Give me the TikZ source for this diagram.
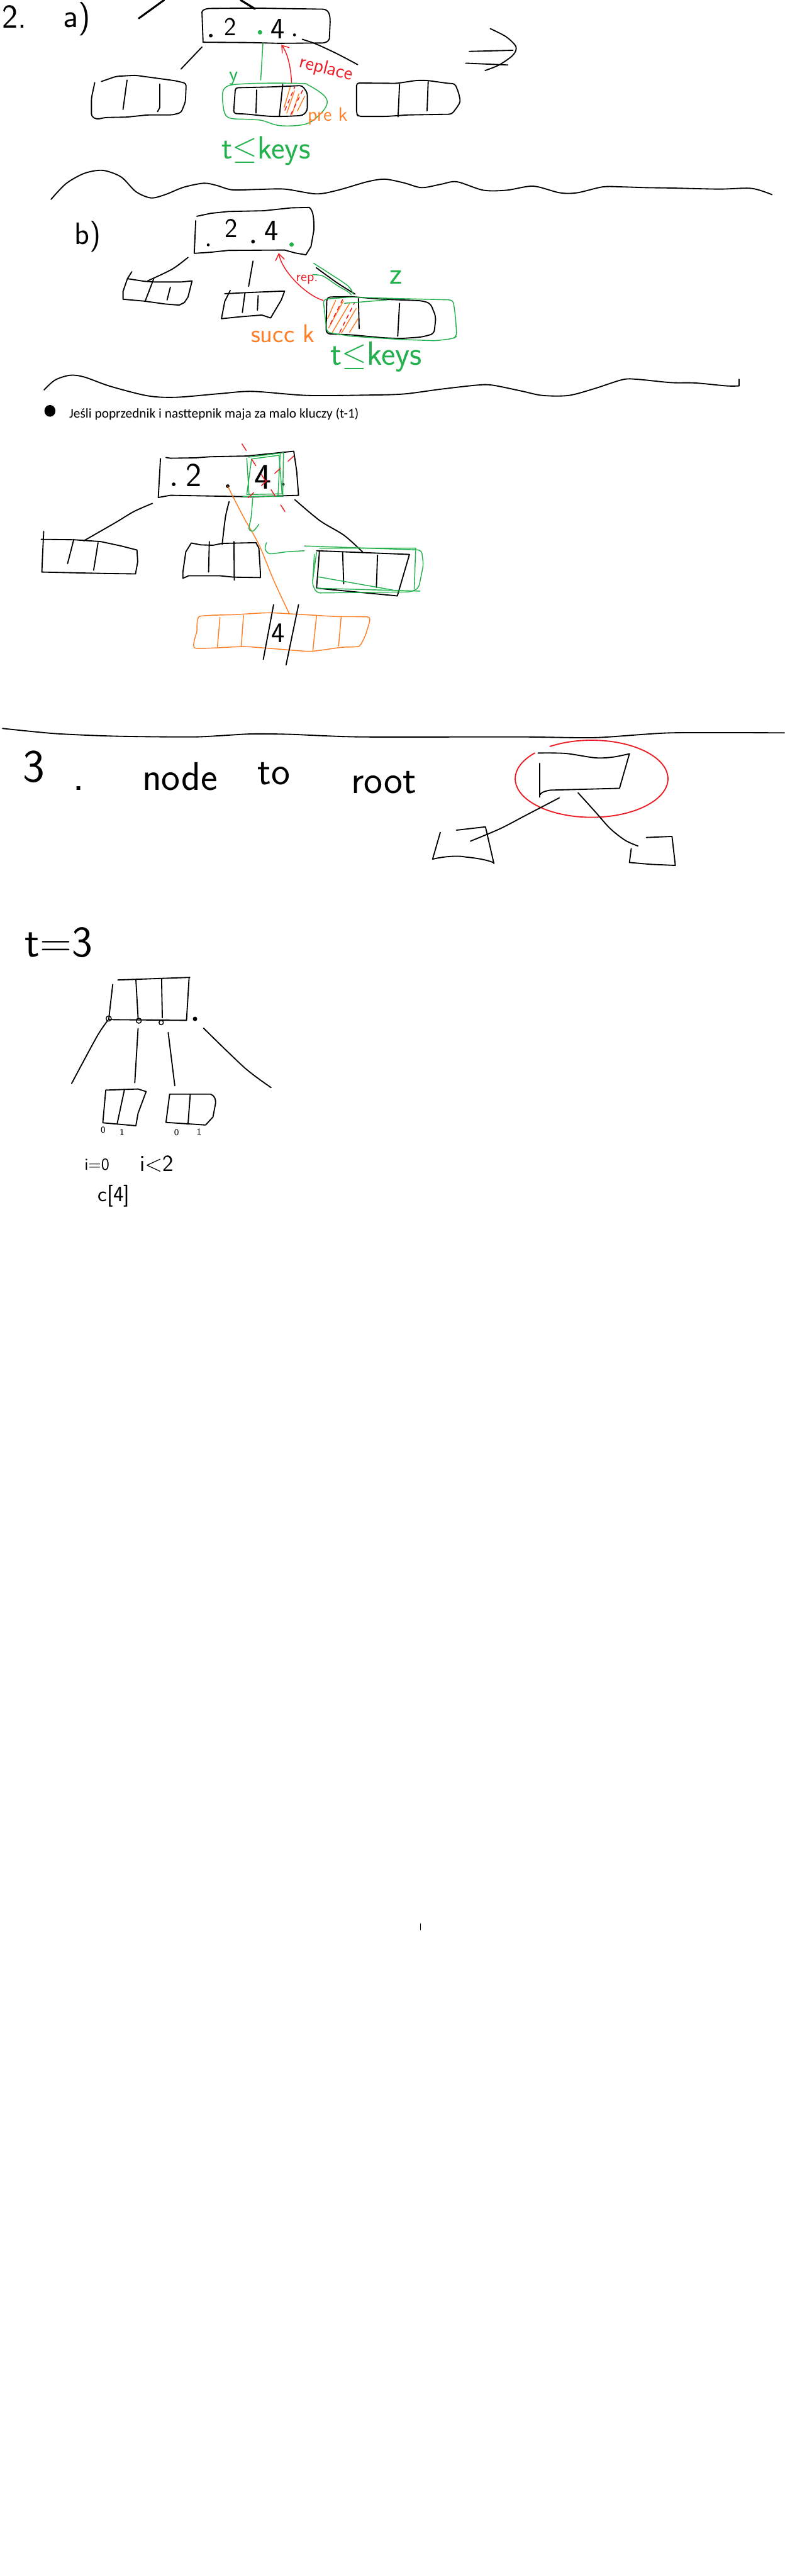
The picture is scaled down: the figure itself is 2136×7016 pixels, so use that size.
\documentclass[tikz,border=0pt]{standalone}
\usepackage{fontspec}
\setmainfont{Carlito}
\usetikzlibrary{arrows.meta}
\definecolor{pgreen}{HTML}{22B14C}
\definecolor{pred}{HTML}{ED1C24}
\definecolor{porange}{HTML}{FF7F27}
\newcommand\hsz[1]{\fontsize{#1}{#1}\selectfont}
\tikzset{
  ink/.style={draw=black, line width=0.9pt, line cap=round, line join=round},
  gink/.style={draw=pgreen, line width=0.7pt, line cap=round, line join=round},
  rink/.style={draw=pred, line width=0.7pt, line cap=round, line join=round},
  oink/.style={draw=porange, line width=0.7pt, line cap=round, line join=round},
  hand/.style={font=\sffamily, inner sep=0pt, outer sep=0pt},
  dotk/.style={fill=black},
  barb/.style={-{Straight Barb[length=5pt,width=7pt]}},
  rdash/.style={rink, dash pattern=on 6pt off 8pt},
}
\begin{document}
\begin{tikzpicture}[x=0.01cm,y=-0.01cm]
\fill[white] (0,0) rectangle (2136,7016);
\useasboundingbox (0,0) rectangle (2136,7016);

% ================= 2 a) =================
\draw[ink, line width=1.5pt] (378,50) -- (447,0);
\draw[ink, line width=1.6pt] (655,0) -- (694,24);
\node[hand, anchor=base west] (t2) at (6,77) {\hsz{26}2.};
\node[hand, anchor=base west] (ta) at (172,74) {\hsz{26}a)};

% root a
\draw[ink] (574,23) -- (690,22) -- (880,25) .. controls (896,27) and (899,40) .. (899,60)
  -- (897,105) .. controls (895,112) and (890,115) .. (880,117) -- (760,118) -- (683,116)
  -- (553,115) -- (550,33) .. controls (551,27) and (560,23) .. (574,23);
\node[hand] (ra2) at (627,73) {\hsz{20}2};
\node[hand] (ra4) at (756,78) {\hsz{23}4};
\fill[dotk] (574,97) circle (5);
\fill[pgreen] (708,88) circle (6);
\fill[dotk] (802,95) circle (4);

% tree lines a
\draw[ink] (550,128) -- (493,188);
\draw[ink] plot[smooth] coordinates {(823,107) (861,120) (919,147) (974,176)};

% left child a
\draw[ink, rounded corners=2pt] (276,222) -- (316,208) -- (368,205) -- (478,220) -- (507,227)
  -- (505,277) -- (493,307) -- (469,313) -- (402,313) -- (344,319) -- (287,320) -- (263,325)
  -- (249,317) -- (249,267) -- (258,225);
\draw[ink] (346,218) -- (335,298);
\draw[ink] (435,229) -- (435,293) -- (429,304);

% middle child a
\draw[ink, rounded corners=2pt] (641,239) -- (732,237) -- (823,233) -- (837,253) -- (837,300)
  -- (828,312) -- (818,315) -- (775,317) -- (737,317) -- (703,314) -- (675,311) -- (636,309) -- cycle;
\draw[ink] (699,245) -- (697,308);
\draw[ink] (770,230) -- (761,315);
% hatch
\draw[oink] (774,292) -- (790,238);
\draw[oink] (781,308) -- (802,247);
\draw[oink] (795,312) -- (814,255);
\draw[oink] (810,302) -- (830,262);
\draw[rdash, dash pattern=on 3pt off 3pt] (776,300) -- (803,236);
\draw[rdash, dash pattern=on 3pt off 3pt] (792,312) -- (825,244);

% green ellipse a
\draw[gink] plot[smooth cycle, tension=0.6] coordinates {(612,240) (670,228) (813,227) (842,233) (885,263) (888,290) (856,325) (823,340) (761,342) (713,328) (675,325) (622,320) (608,290)};
\draw[gink] (716,118) -- (710,218);
\node[hand, text=pgreen] (ly) at (636,213) {\hsz{16}y};

% red arrow a
\draw[rink, barb] (794,225) .. controls (792,180) and (782,142) .. (766,122);
\node[hand, text=pred, rotate=-14] (lrep) at (888,188) {\hsz{15}replace};
\node[hand, text=porange, anchor=base west] (lpre) at (838,330) {\hsz{15}pre\,\,k};

% right child a
\draw[ink, rounded corners=2pt] (971,226) -- (1081,227) -- (1134,219) -- (1163,219) -- (1220,227)
  -- (1239,228) -- (1249,253) -- (1254,277) -- (1244,293) -- (1230,311) -- (1110,313) -- (1053,317)
  -- (976,317) -- (971,310) -- cycle;
\draw[ink] (1088,230) -- (1084,318);
\draw[ink] (1166,222) -- (1163,302);

% implies arrow
\draw[ink] (1278,140) -- (1397,137);
\draw[ink] (1268,172) -- (1383,177);
\draw[ink] plot[smooth] coordinates {(1335,78) (1378,100) (1405,127) (1397,150) (1359,177) (1321,192)};

\node[hand, text=pgreen, anchor=base west] (lk1) at (603,432) {\hsz{25}t$\leq$keys};

% separator 1
\draw[ink] plot[smooth, tension=0.5] coordinates {(139,543) (180,500) (230,472) (280,464) (330,482) (370,522) (411,539) (450,530) (500,510) (555,499) (590,505) (632,517) (700,516) (775,515) (861,528) (920,518) (1000,495) (1048,488) (1100,498) (1148,511) (1200,502) (1244,495) (1316,518) (1380,518) (1452,507) (1524,525) (1572,525) (1641,509) (1694,509) (1758,511) (1825,512) (1958,515) (2046,513) (2102,530)};

% ================= b) =================
\node[hand] (tb) at (239,645) {\hsz{24}b)};
\draw[ink] (536,589) -- (574,581) -- (622,576) -- (718,574) -- (794,566) -- (842,565)
  .. controls (852,572) and (855,590) .. (855,625) -- (847,671) -- (833,694) -- (804,689)
  -- (775,681) -- (622,682) -- (574,687) -- (529,690) -- (533,601);
\node[hand] (rb2) at (630,622) {\hsz{21}2};
\node[hand] (rb4) at (739,628) {\hsz{23}4};
\fill[dotk] (567,667) circle (4);
\fill[dotk] (689,658) circle (5);
\fill[pgreen] (794,666) circle (6);

\draw[ink] plot[smooth] coordinates {(512,701) (469,733) (402,765)};
\draw[ink] (689,711) -- (677,780);
\draw[ink] plot[smooth] coordinates {(861,729) (919,771) (967,801)};
\draw[gink] plot[smooth] coordinates {(854,717) (890,740) (947,778) (962,801)};
\draw[gink] plot[smooth] coordinates {(852,748) (880,752) (919,778) (947,794) (957,803)};

% left child b
\draw[ink] (359,740) -- (347,759) -- (392,766) -- (421,768) -- (493,768) -- (523,765)
  -- (512,809) -- (502,824) -- (488,831) -- (450,828) -- (392,820) -- (335,815) -- (335,794) -- (347,759);
\draw[ink] (418,761) -- (395,821);
\draw[ink] (464,782) -- (455,817);

% middle child b
\draw[ink] (612,800) -- (670,797) -- (766,793) -- (775,793) -- (766,817) -- (737,866)
  -- (713,858) -- (651,863) -- (603,868) -- (612,821) -- (627,791);
\draw[ink] (667,798) -- (660,851);
\draw[ink] (703,805) -- (701,845);

% right child b
\draw[ink, rounded corners=3pt] (890,809) -- (957,808) -- (1043,815) -- (1148,819) -- (1172,826)
  -- (1187,863) -- (1182,909) -- (1148,918) -- (1091,922) -- (1043,920) -- (957,912) -- (888,909) -- cycle;
\draw[ink] (976,813) -- (978,895);
\draw[ink] (1088,826) -- (1083,916);
% hatch b
\draw[oink] (892,868) -- (914,818);
\draw[oink] (895,893) -- (935,820);
\draw[oink] (905,905) -- (952,826);
\draw[oink] (930,907) -- (970,840);
\draw[oink] (952,905) -- (975,868);
\draw[rdash, dash pattern=on 3pt off 3pt] (900,882) -- (935,812);
\draw[rdash, dash pattern=on 3pt off 3pt] (925,905) -- (965,825);
% green box b
\draw[gink, rounded corners=3pt] (880,815) -- (957,809) -- (1043,812) -- (1234,817) -- (1240,860)
  -- (1244,916) -- (1234,922) -- (1187,928) -- (1100,925) -- (957,916) -- (890,905) -- cycle;
\draw[gink] (938,826) -- (1053,817);
\node[hand, text=pgreen] (lz) at (1079,756) {\hsz{24}z};

% red arrow b
\draw[rink, barb] (880,818) .. controls (835,805) and (768,740) .. (759,689);
\node[hand, text=pred] (lrep2) at (836,762) {\hsz{11}rep.};
\node[hand, text=porange] (lsucc) at (770,908) {\hsz{20}succ k};
\node[hand, text=pgreen, anchor=base west] (lk2) at (900,994) {\hsz{26}t$\leq$keys};

% separator 2
\draw[ink] plot[smooth, tension=0.5] coordinates {(120,1062) (150,1035) (191,1022) (230,1027) (300,1052) (402,1078) (480,1082) (600,1072) (688,1066) (837,1077) (1003,1076) (1100,1073) (1200,1060) (1298,1049) (1341,1049) (1420,1065) (1477,1077) (1549,1077) (1620,1058) (1695,1034) (1735,1033) (1827,1042) (1893,1043) (1979,1051) (2012,1051)};
\draw[ink] (2012,1051) -- (2012,1033);

% ================= typed line =================
\fill[black] (136,1119) ellipse [x radius=15, y radius=16];
\node[inner sep=0pt, anchor=base west] (typed) at (188,1138) {\fontsize{10.4}{12}\selectfont Jeśli poprzednik i nasttepnik maja za malo kluczy (t-1)};

% root c
\draw[ink] (452,1246) -- (464,1248) -- (531,1247) -- (572,1244) -- (672,1242) -- (800,1229)
  -- (808,1284) -- (813,1349) -- (688,1353) -- (464,1349) -- (431,1355) -- (437,1249);
\node[hand] (rc2) at (528,1295) {\hsz{26}2};
\node[hand] (rc4) at (716,1299) {\hsz{28}4};
\fill[dotk] (473,1319) circle (5);
\fill[dotk] (620,1324) circle (5);
\fill[dotk] (771,1319) circle (4);
% green box round 4
\draw[gink] (677,1245) -- (772,1233) -- (770,1352) -- (661,1352);
\draw[gink] (685,1250) -- (760,1240) -- (768,1345) -- (672,1347) -- cycle;
\draw[gink] (672,1248) -- (678,1345);
\draw[gink] (763,1236) -- (757,1350);
% red dashed cross
\draw[rdash] (659,1209) -- (784,1406);
\draw[rdash] (800,1242) -- (659,1371);

% lines c
\draw[ink] plot[smooth] coordinates {(415,1371) (365,1393) (315,1423) (228,1473)};
\draw[ink] plot[smooth] coordinates {(624,1366) (614,1408) (605,1483)};
\draw[ink] plot[smooth] coordinates {(803,1361) (871,1418) (937,1458) (987,1503)};
\draw[oink] plot[smooth] coordinates {(620,1324) (663,1408) (705,1483) (746,1582) (788,1672)};
\draw[gink] plot[smooth] coordinates {(688,1358) (684,1408) (678,1440) (690,1446) (705,1428)};
\draw[gink] plot[smooth] coordinates {(726,1478) (722,1495) (735,1508) (780,1503) (829,1500)};

% left child c
\draw[ink] (112,1469) -- (201,1470) -- (274,1475) -- (330,1487) -- (373,1498) -- (375,1530)
  -- (369,1563) -- (290,1562) -- (114,1558) -- (116,1510) -- (119,1447);
\draw[ink] (201,1469) -- (184,1535);
\draw[ink] (267,1478) -- (255,1553);

% middle child c
\draw[ink] (521,1479) -- (547,1484) -- (580,1485) -- (605,1480) -- (697,1478) -- (705,1493)
  -- (709,1558) -- (709,1573) -- (638,1572) -- (597,1568) -- (514,1568) -- (498,1575)
  -- (498,1558) -- (506,1503) -- cycle;
\draw[ink] (570,1475) -- (568,1558);
\draw[ink] (637,1475) -- (638,1580);

% right child c
\draw[ink] (862,1500) -- (1115,1510) -- (1082,1623) -- (862,1602) -- (870,1500);
\draw[ink] (933,1505) -- (936,1590);
\draw[ink] (1028,1512) -- (1025,1600);
\draw[gink, rounded corners=3pt] (829,1487) -- (1148,1498) -- (1153,1538) -- (1140,1602) -- (1119,1612) -- (862,1615) -- (850,1590) -- (862,1505);
\draw[gink] (870,1493) -- (1132,1493) -- (1128,1604);
\draw[gink] (866,1571) -- (1070,1607);
\draw[gink] (862,1602) -- (1144,1610);
\draw[gink] (856,1510) -- (852,1580);

% orange box
\draw[oink] plot[smooth cycle, tension=0.3] coordinates {(543,1679) (640,1674) (738,1669) (912,1679) (1000,1680) (1007,1690) (995,1730) (978,1760) (930,1763) (846,1774) (760,1768) (663,1761) (531,1765) (536,1720)};
\draw[oink] (599,1681) -- (592,1762);
\draw[oink] (663,1676) -- (657,1760);
\draw[oink] (862,1677) -- (852,1772);
\draw[oink] (929,1680) -- (922,1760);
\draw[ink] (745,1647) -- (717,1796);
\draw[ink] (813,1647) -- (779,1811);
\node[hand] (o4) at (758,1725) {\hsz{22}4};

% separator 3
\draw[ink] plot[smooth, tension=0.4] coordinates {(7,1984) (150,1998) (313,2005) (531,2007) (681,1999) (790,2000) (981,2007) (1417,2007) (1621,2009) (1826,1996) (2136,1996)};

% ================= 3. node to root =================
\node[hand] (t3) at (92,2088) {\hsz{36}3};
\node[hand, anchor=base] (t3d) at (215,2152) {\hsz{36}.};
\node[hand, anchor=base] (tnode) at (490,2152) {\hsz{31}node};
\node[hand, anchor=base] (tto) at (746,2136) {\hsz{31}to};
\node[hand, anchor=base] (troot) at (1045,2160) {\hsz{31}root};

\draw[ink] plot[smooth] coordinates {(1465,2051) (1540,2052) (1621,2064) (1669,2062) (1714,2053)};
\draw[ink] (1714,2053) -- (1687,2147) -- (1499,2152) .. controls (1480,2155) and (1472,2160) .. (1471,2164);
\draw[ink] (1469,2079) -- (1469,2171);
\draw[rink, line width=0.9pt] plot[smooth, domain=237:582, samples=90, variable=\t] ({1611+208*cos(\t)},{2121+105*sin(\t)});
\draw[ink] plot[smooth] coordinates {(1523,2173) (1431,2221) (1362,2257) (1281,2291)};
\draw[ink] plot[smooth] coordinates {(1574,2159) (1621,2211) (1662,2257) (1703,2289) (1737,2304)};
% small boxes
\draw[ink] (1243,2261) -- (1322,2252) -- (1345,2352);
\draw[ink] (1199,2267) -- (1178,2340) .. controls (1210,2332) and (1250,2330) .. (1267,2334) .. controls (1310,2338) and (1335,2345) .. (1345,2350);
\draw[ink] (1760,2281) -- (1830,2278) -- (1839,2357) -- (1771,2354) -- (1714,2349) -- (1719,2311);

% ================= t = 3 =================
\node[hand] (tt3) at (160,2567) {\hsz{34}t=3};
\draw[ink] (321,2669) -- (517,2662);
\draw[ink] (515,2662) -- (508,2777);
\draw[ink] (296,2777) -- (508,2779);
\draw[ink] (307,2681) -- (296,2777);
\draw[ink] (370,2668) -- (376,2772);
\draw[ink] (440,2666) -- (442,2772);
\draw[ink, line width=0.7pt] (296,2774) circle (7);
\draw[ink, line width=0.7pt] (378,2780) circle (7);
\draw[ink, line width=0.7pt] (439,2785) circle (6);
\fill[dotk] (531,2775) circle (6);
\draw[ink] plot[smooth] coordinates {(293,2780) (264,2823) (195,2951)};
\draw[ink] (376,2801) -- (367,2949);
\draw[ink] (458,2812) -- (476,2957);
\draw[ink] plot[smooth] coordinates {(554,2800) (666,2908) (738,2962)};
% child 1
\draw[ink] (288,2969) -- (376,2966) -- (398,2973) -- (376,3032) -- (370,3066) -- (280,3058) -- (288,2969);
\draw[ink] (339,2967) -- (319,3061);
% child 2
\draw[ink] (462,2980) -- (574,2980) .. controls (585,2985) and (588,2995) .. (587,3005) -- (580,3042) -- (560,3064) -- (452,3057) -- (462,2980);
\draw[ink] (518,2981) -- (512,3062);
\node[hand] (i0a) at (281,3078) {\hsz{7}0};
\node[hand] (i1a) at (332,3084) {\hsz{7}1};
\node[hand] (i0b) at (481,3084) {\hsz{7}0};
\node[hand] (i1b) at (542,3082) {\hsz{7}1};
\node[hand] (ti0) at (264,3172) {\hsz{13}i=0};
\node[hand] (ti2) at (427,3170) {\hsz{18}i<2};
\node[hand] (tc4) at (310,3258) {\hsz{17}c[4]};

% stray mark
\draw[ink] (1145,5240) -- (1145,5256);
\end{tikzpicture}
\end{document}
